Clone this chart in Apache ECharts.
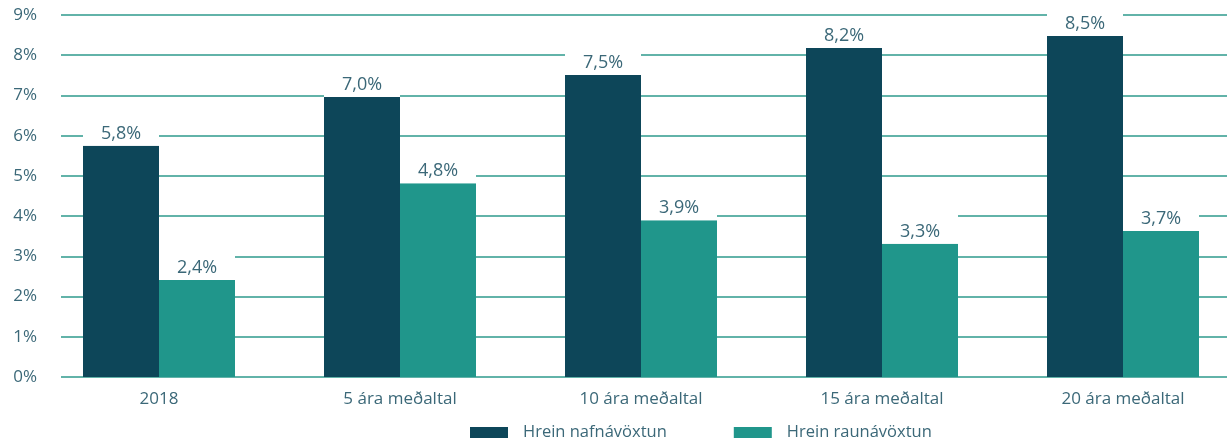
<!DOCTYPE html>
<html>
<head>
<meta charset="utf-8">
<script src="https://cdn.jsdelivr.net/npm/echarts@6/dist/echarts.min.js"></script>
<style>
  html, body { margin: 0; padding: 0; background: #fff; }
  #chart { width: 1227px; height: 443px; }
</style>
</head>
<body>
<div id="chart"></div>
<script>
const categories = ['2018', '5 ára meðaltal', '10 ára meðaltal', '15 ára meðaltal', '20 ára meðaltal']
const seriesNames = ['Hrein nafnávöxtun', 'Hrein raunávöxtun']
const nafn = [5.75, 6.96, 7.51, 8.18, 8.48]
const raun = [2.41, 4.82, 3.90, 3.31, 3.63]
const nafnLabels = ['5,8%', '7,0%', '7,5%', '8,2%', '8,5%']
const raunLabels = ['2,4%', '4,8%', '3,9%', '3,3%', '3,7%']

const font = 'Open Sans'
const textColor = '#3b6878'

const chart = echarts.init(document.getElementById('chart'))

function barLabel (labels) {
  return {
    show: true,
    position: 'top',
    distance: 0,
    color: textColor,
    fontFamily: font,
    fontSize: 18,
    backgroundColor: '#fff',
    width: 76,
    align: 'center',
    padding: [11, 0, 3, 0],
    formatter: p => labels[p.dataIndex]
  }
}

chart.setOption({
  animation: false,
  grid: [
    // gridlines + y labels
    { left: 61, right: 0, top: 15, bottom: 66, outerBoundsMode: 'none' },
    // bars
    { left: 38.5, width: 1205, top: 15, bottom: 66, outerBoundsMode: 'none' }
  ],
  legend: {
    left: 465,
    top: 419,
    itemWidth: 38,
    itemHeight: 11,
    itemGap: 67,
    icon: 'rect',
    textStyle: {
      color: textColor,
      fontFamily: font,
      fontSize: 16.5,
      padding: [0, 0, 0, 10]
    },
    data: seriesNames
  },
  xAxis: [
    { gridIndex: 0, type: 'value', show: false },
    {
      gridIndex: 1,
      type: 'category',
      data: categories,
      axisLine: { show: false },
      axisTick: { show: false },
      axisLabel: { color: textColor, fontFamily: font, fontSize: 17, margin: 14 }
    }
  ],
  yAxis: [
    {
      gridIndex: 0,
      type: 'value',
      min: 0,
      max: 9,
      interval: 1,
      axisLine: { show: false },
      axisTick: { show: false },
      axisLabel: {
        color: textColor,
        fontFamily: font,
        fontSize: 17,
        margin: 24,
        formatter: v => v + '%'
      },
      splitLine: { lineStyle: { color: '#62b3a9', width: 2 } }
    },
    {
      gridIndex: 1,
      type: 'value',
      min: 0,
      max: 9,
      interval: 1,
      show: false,
      splitLine: { show: false }
    }
  ],
  series: [
    {
      name: seriesNames[0],
      type: 'bar',
      xAxisIndex: 1,
      yAxisIndex: 1,
      barWidth: 76,
      barGap: '0%',
      itemStyle: { color: '#0d4659' },
      label: barLabel(nafnLabels),
      data: nafn
    },
    {
      name: seriesNames[1],
      type: 'bar',
      xAxisIndex: 1,
      yAxisIndex: 1,
      barWidth: 76,
      barGap: '0%',
      itemStyle: { color: '#20968b' },
      label: barLabel(raunLabels),
      data: raun
    }
  ]
})
</script>
</body>
</html>
